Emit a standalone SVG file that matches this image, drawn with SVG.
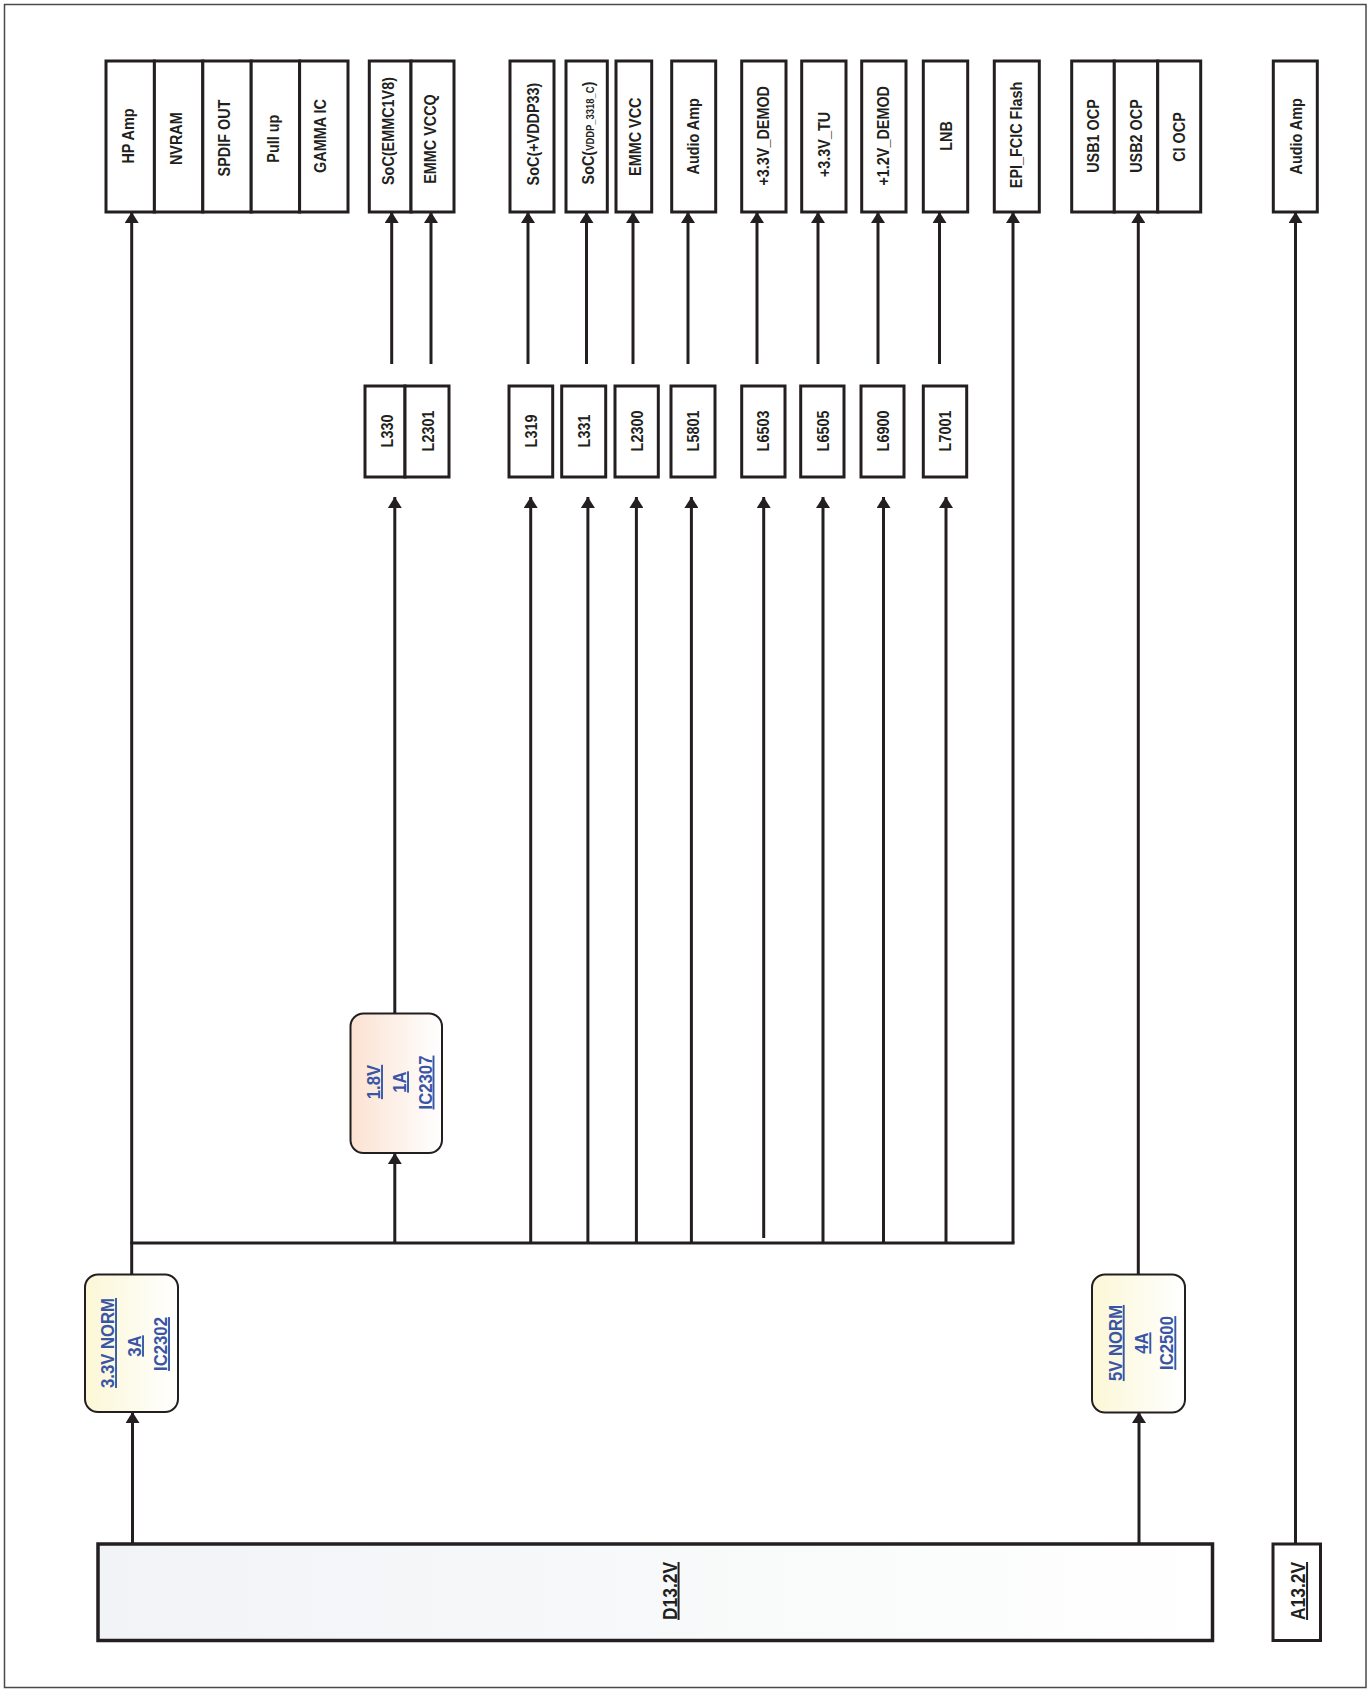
<svg xmlns="http://www.w3.org/2000/svg" width="1371" height="1692" viewBox="0 0 1371 1692">
<style>
.box{fill:#fff;stroke:#231f20;stroke-width:3}
.t{font-family:"Liberation Sans",Arial,sans-serif;font-weight:bold;font-size:16px;fill:#231f20;text-anchor:middle}
.bt{font-family:"Liberation Sans",Arial,sans-serif;font-weight:bold;font-size:19px;fill:#3a55a5;text-anchor:middle;text-decoration:underline}
.st{font-family:"Liberation Sans",Arial,sans-serif;font-weight:bold;font-size:20px;fill:#231f20;text-anchor:middle;text-decoration:underline}
.reg{stroke:#231f20;stroke-width:2}
.c{fill:none;stroke:#231f20;stroke-width:3}
.ca{fill:none;stroke:#231f20;stroke-width:3;marker-end:url(#arr)}
</style>
<defs>
<marker id="arr" markerUnits="userSpaceOnUse" markerWidth="12" markerHeight="14" refX="11" refY="7" orient="auto">
<path d="M0,0 L11,7 L0,14 z" fill="#231f20"/>
</marker>
<linearGradient id="gy" x1="0" y1="0" x2="1" y2="0">
<stop offset="0" stop-color="#fbf7d6"/><stop offset="1" stop-color="#ffffff"/>
</linearGradient>
<linearGradient id="gp" x1="0" y1="0" x2="1" y2="0">
<stop offset="0" stop-color="#fbe2d2"/><stop offset="1" stop-color="#ffffff"/>
</linearGradient>
<linearGradient id="gd" x1="0" y1="0" x2="1" y2="0">
<stop offset="0" stop-color="#f1f3f7"/><stop offset="0.6" stop-color="#f9fafa"/><stop offset="1" stop-color="#ffffff"/>
</linearGradient>
</defs>
<rect x="4.5" y="4.5" width="1361.5" height="1683" fill="#fff" stroke="#4a4a4a" stroke-width="1.5"/>

<g id="connectors">
<!-- top connectors from L boxes to loads -->
<line class="ca" x1="391.7" y1="364" x2="391.7" y2="212"/>
<line class="ca" x1="431" y1="364" x2="431" y2="212"/>
<line class="ca" x1="528" y1="364" x2="528" y2="212"/>
<line class="ca" x1="586.5" y1="364" x2="586.5" y2="212"/>
<line class="ca" x1="633" y1="364" x2="633" y2="212"/>
<line class="ca" x1="688" y1="364" x2="688" y2="212"/>
<line class="ca" x1="757" y1="364" x2="757" y2="212"/>
<line class="ca" x1="818" y1="364" x2="818" y2="212"/>
<line class="ca" x1="878" y1="364" x2="878" y2="212"/>
<line class="ca" x1="939.5" y1="364" x2="939.5" y2="212"/>
<!-- long lines -->
<line class="ca" x1="131.7" y1="1275" x2="131.7" y2="212"/>
<line class="ca" x1="1013" y1="1243" x2="1013" y2="212"/>
<line class="ca" x1="1138.3" y1="1274" x2="1138.3" y2="212"/>
<line class="ca" x1="1295.5" y1="1543" x2="1295.5" y2="212"/>
<!-- bus -->
<line class="c" x1="130.2" y1="1243" x2="1014.5" y2="1243"/>
<!-- bus to L boxes -->
<line class="ca" x1="394.8" y1="1243" x2="394.8" y2="1153"/>
<line class="ca" x1="394.8" y1="1013" x2="394.8" y2="497"/>
<line class="ca" x1="530.7" y1="1243" x2="530.7" y2="497"/>
<line class="ca" x1="587.9" y1="1243" x2="587.9" y2="497"/>
<line class="ca" x1="636.4" y1="1243" x2="636.4" y2="497"/>
<line class="ca" x1="691.4" y1="1243" x2="691.4" y2="497"/>
<line class="ca" x1="763.7" y1="1238" x2="763.7" y2="497"/>
<line class="ca" x1="823" y1="1243" x2="823" y2="497"/>
<line class="ca" x1="883.5" y1="1243" x2="883.5" y2="497"/>
<line class="ca" x1="946" y1="1243" x2="946" y2="497"/>
<!-- source to regulators -->
<line class="ca" x1="132.5" y1="1543" x2="132.5" y2="1412"/>
<line class="ca" x1="1139" y1="1543" x2="1139" y2="1412"/>
</g>

<g id="load-hp-group">
<rect class="box" x="106" y="61" width="48.4" height="151"/>
<rect class="box" x="154.4" y="61" width="48.4" height="151"/>
<rect class="box" x="202.8" y="61" width="48.4" height="151"/>
<rect class="box" x="251.2" y="61" width="48.4" height="151"/>
<rect class="box" x="299.6" y="61" width="48.4" height="151"/>
<text class="t" transform="translate(128.3,136) rotate(-90) scale(0.9,1)" dy="0.36em">HP Amp</text>
<text class="t" transform="translate(176,138.7) rotate(-90) scale(0.9,1)" dy="0.36em">NVRAM</text>
<text class="t" transform="translate(224,138) rotate(-90) scale(0.9,1)" dy="0.36em">SPDIF OUT</text>
<text class="t" transform="translate(273,138.7) rotate(-90) scale(0.9,1)" dy="0.36em">Pull up</text>
<text class="t" transform="translate(320,136) rotate(-90) scale(0.9,1)" dy="0.36em">GAMMA IC</text>
</g>
<g id="load-soc-emmc">
<rect class="box" x="369.3" y="61" width="41.7" height="151"/>
<rect class="box" x="411" y="61" width="43" height="151"/>
<text class="t" transform="translate(388,131) rotate(-90) scale(0.9,1)" dy="0.36em">SoC(EMMC1V8)</text>
<text class="t" transform="translate(430.5,139) rotate(-90) scale(0.9,1)" dy="0.36em">EMMC VCCQ</text>
</g>
<g id="load-soc-vddp33">
<rect class="box" x="510" y="61" width="44" height="151"/>
<text class="t" transform="translate(533,134) rotate(-90) scale(0.9,1)" dy="0.36em">SoC(+VDDP33)</text>
</g>
<g id="load-soc-vddp3318">
<rect class="box" x="566" y="61" width="41.3" height="151"/>
<text class="t" transform="translate(588,133) rotate(-90) scale(0.9,1)" dy="0.36em">SoC(<tspan font-size="10.5px">VDDP_3318_C</tspan>)</text>
</g>
<g id="load-emmc-vcc">
<rect class="box" x="616" y="61" width="35.7" height="151"/>
<text class="t" transform="translate(635,136.7) rotate(-90) scale(0.9,1)" dy="0.36em">EMMC VCC</text>
</g>
<g id="load-audio-amp">
<rect class="box" x="671.7" y="61" width="44" height="151"/>
<text class="t" transform="translate(693,136.3) rotate(-90) scale(0.9,1)" dy="0.36em">Audio Amp</text>
</g>
<g id="load-33v-demod">
<rect class="box" x="741.7" y="61" width="44.3" height="151"/>
<text class="t" transform="translate(763.5,135.8) rotate(-90) scale(0.9,1)" dy="0.36em">+3.3V_DEMOD</text>
</g>
<g id="load-33v-tu">
<rect class="box" x="801.7" y="61" width="44.3" height="151"/>
<text class="t" transform="translate(824,144.5) rotate(-90) scale(0.9,1)" dy="0.36em">+3.3V_TU</text>
</g>
<g id="load-12v-demod">
<rect class="box" x="861.7" y="61" width="44.3" height="151"/>
<text class="t" transform="translate(883.5,135.8) rotate(-90) scale(0.9,1)" dy="0.36em">+1.2V_DEMOD</text>
</g>
<g id="load-lnb">
<rect class="box" x="923.3" y="61" width="44.4" height="151"/>
<text class="t" transform="translate(946,136) rotate(-90) scale(0.9,1)" dy="0.36em">LNB</text>
</g>
<g id="load-epi">
<rect class="box" x="994.3" y="61" width="45" height="151"/>
<text class="t" transform="translate(1016.7,135) rotate(-90) scale(0.9,1)" dy="0.36em">EPI_FCIC Flash</text>
</g>
<g id="load-usb-group">
<rect class="box" x="1071.7" y="61" width="42.6" height="151"/>
<rect class="box" x="1114.3" y="61" width="43.4" height="151"/>
<rect class="box" x="1157.7" y="61" width="43" height="151"/>
<text class="t" transform="translate(1093,136) rotate(-90) scale(0.9,1)" dy="0.36em">USB1 OCP</text>
<text class="t" transform="translate(1136.5,136) rotate(-90) scale(0.9,1)" dy="0.36em">USB2 OCP</text>
<text class="t" transform="translate(1179.5,137) rotate(-90) scale(0.9,1)" dy="0.36em">CI OCP</text>
</g>
<g id="load-audio-amp-2">
<rect class="box" x="1273.3" y="61" width="44" height="151"/>
<text class="t" transform="translate(1296,136.3) rotate(-90) scale(0.9,1)" dy="0.36em">Audio Amp</text>
</g>

<g id="l330-l2301">
<rect class="box" x="365" y="386" width="40" height="91"/>
<rect class="box" x="405" y="386" width="44" height="91"/>
<text class="t" transform="translate(387.5,431) rotate(-90) scale(0.9,1)" dy="0.36em">L330</text>
<text class="t" transform="translate(427.8,431) rotate(-90) scale(0.9,1)" dy="0.36em">L2301</text>
</g>
<g id="l319">
<rect class="box" x="509" y="386" width="43.7" height="91"/>
<text class="t" transform="translate(531,431) rotate(-90) scale(0.9,1)" dy="0.36em">L319</text>
</g>
<g id="l331">
<rect class="box" x="561.7" y="386" width="44" height="91"/>
<text class="t" transform="translate(584,431) rotate(-90) scale(0.9,1)" dy="0.36em">L331</text>
</g>
<g id="l2300">
<rect class="box" x="615" y="386" width="43.3" height="91"/>
<text class="t" transform="translate(637,431) rotate(-90) scale(0.9,1)" dy="0.36em">L2300</text>
</g>
<g id="l5801">
<rect class="box" x="671" y="386" width="44" height="91"/>
<text class="t" transform="translate(692.8,431) rotate(-90) scale(0.9,1)" dy="0.36em">L5801</text>
</g>
<g id="l6503">
<rect class="box" x="741.7" y="386" width="43.3" height="91"/>
<text class="t" transform="translate(763.3,431) rotate(-90) scale(0.9,1)" dy="0.36em">L6503</text>
</g>
<g id="l6505">
<rect class="box" x="800.7" y="386" width="43.3" height="91"/>
<text class="t" transform="translate(823.3,431) rotate(-90) scale(0.9,1)" dy="0.36em">L6505</text>
</g>
<g id="l6900">
<rect class="box" x="861" y="386" width="43" height="91"/>
<text class="t" transform="translate(883.3,431) rotate(-90) scale(0.9,1)" dy="0.36em">L6900</text>
</g>
<g id="l7001">
<rect class="box" x="923.3" y="386" width="43.4" height="91"/>
<text class="t" transform="translate(945,431) rotate(-90) scale(0.9,1)" dy="0.36em">L7001</text>
</g>

<g id="ic2307">
<rect class="reg" x="350.5" y="1013.5" width="91.5" height="139.5" rx="13" fill="url(#gp)"/>
<text class="bt" transform="translate(380,1082) rotate(-90) scale(0.88,1)">1.8V</text>
<text class="bt" transform="translate(406,1082) rotate(-90) scale(0.88,1)">1A</text>
<text class="bt" transform="translate(431.5,1082.5) rotate(-90) scale(0.88,1)">IC2307</text>
</g>
<g id="ic2302">
<rect class="reg" x="85" y="1274.5" width="93" height="137.5" rx="13" fill="url(#gy)"/>
<text class="bt" transform="translate(114,1343) rotate(-90) scale(0.88,1)">3.3V NORM</text>
<text class="bt" transform="translate(141,1346) rotate(-90) scale(0.88,1)">3A</text>
<text class="bt" transform="translate(167,1344) rotate(-90) scale(0.88,1)">IC2302</text>
</g>
<g id="ic2500">
<rect class="reg" x="1092" y="1274.5" width="93" height="138" rx="13" fill="url(#gy)"/>
<text class="bt" transform="translate(1121.7,1343) rotate(-90) scale(0.88,1)">5V NORM</text>
<text class="bt" transform="translate(1148.3,1343) rotate(-90) scale(0.88,1)">4A</text>
<text class="bt" transform="translate(1173.3,1343) rotate(-90) scale(0.88,1)">IC2500</text>
</g>

<g id="d13v2">
<rect x="98" y="1544" width="1114.5" height="96.5" fill="url(#gd)" stroke="#231f20" stroke-width="3.5"/>
<text class="st" transform="translate(676.5,1591) rotate(-90) scale(0.87,1)">D13.2V</text>
</g>
<g id="a13v2">
<rect class="box" x="1273" y="1544" width="47.5" height="96.5"/>
<text class="st" transform="translate(1305,1591) rotate(-90) scale(0.87,1)">A13.2V</text>
</g>
</svg>
